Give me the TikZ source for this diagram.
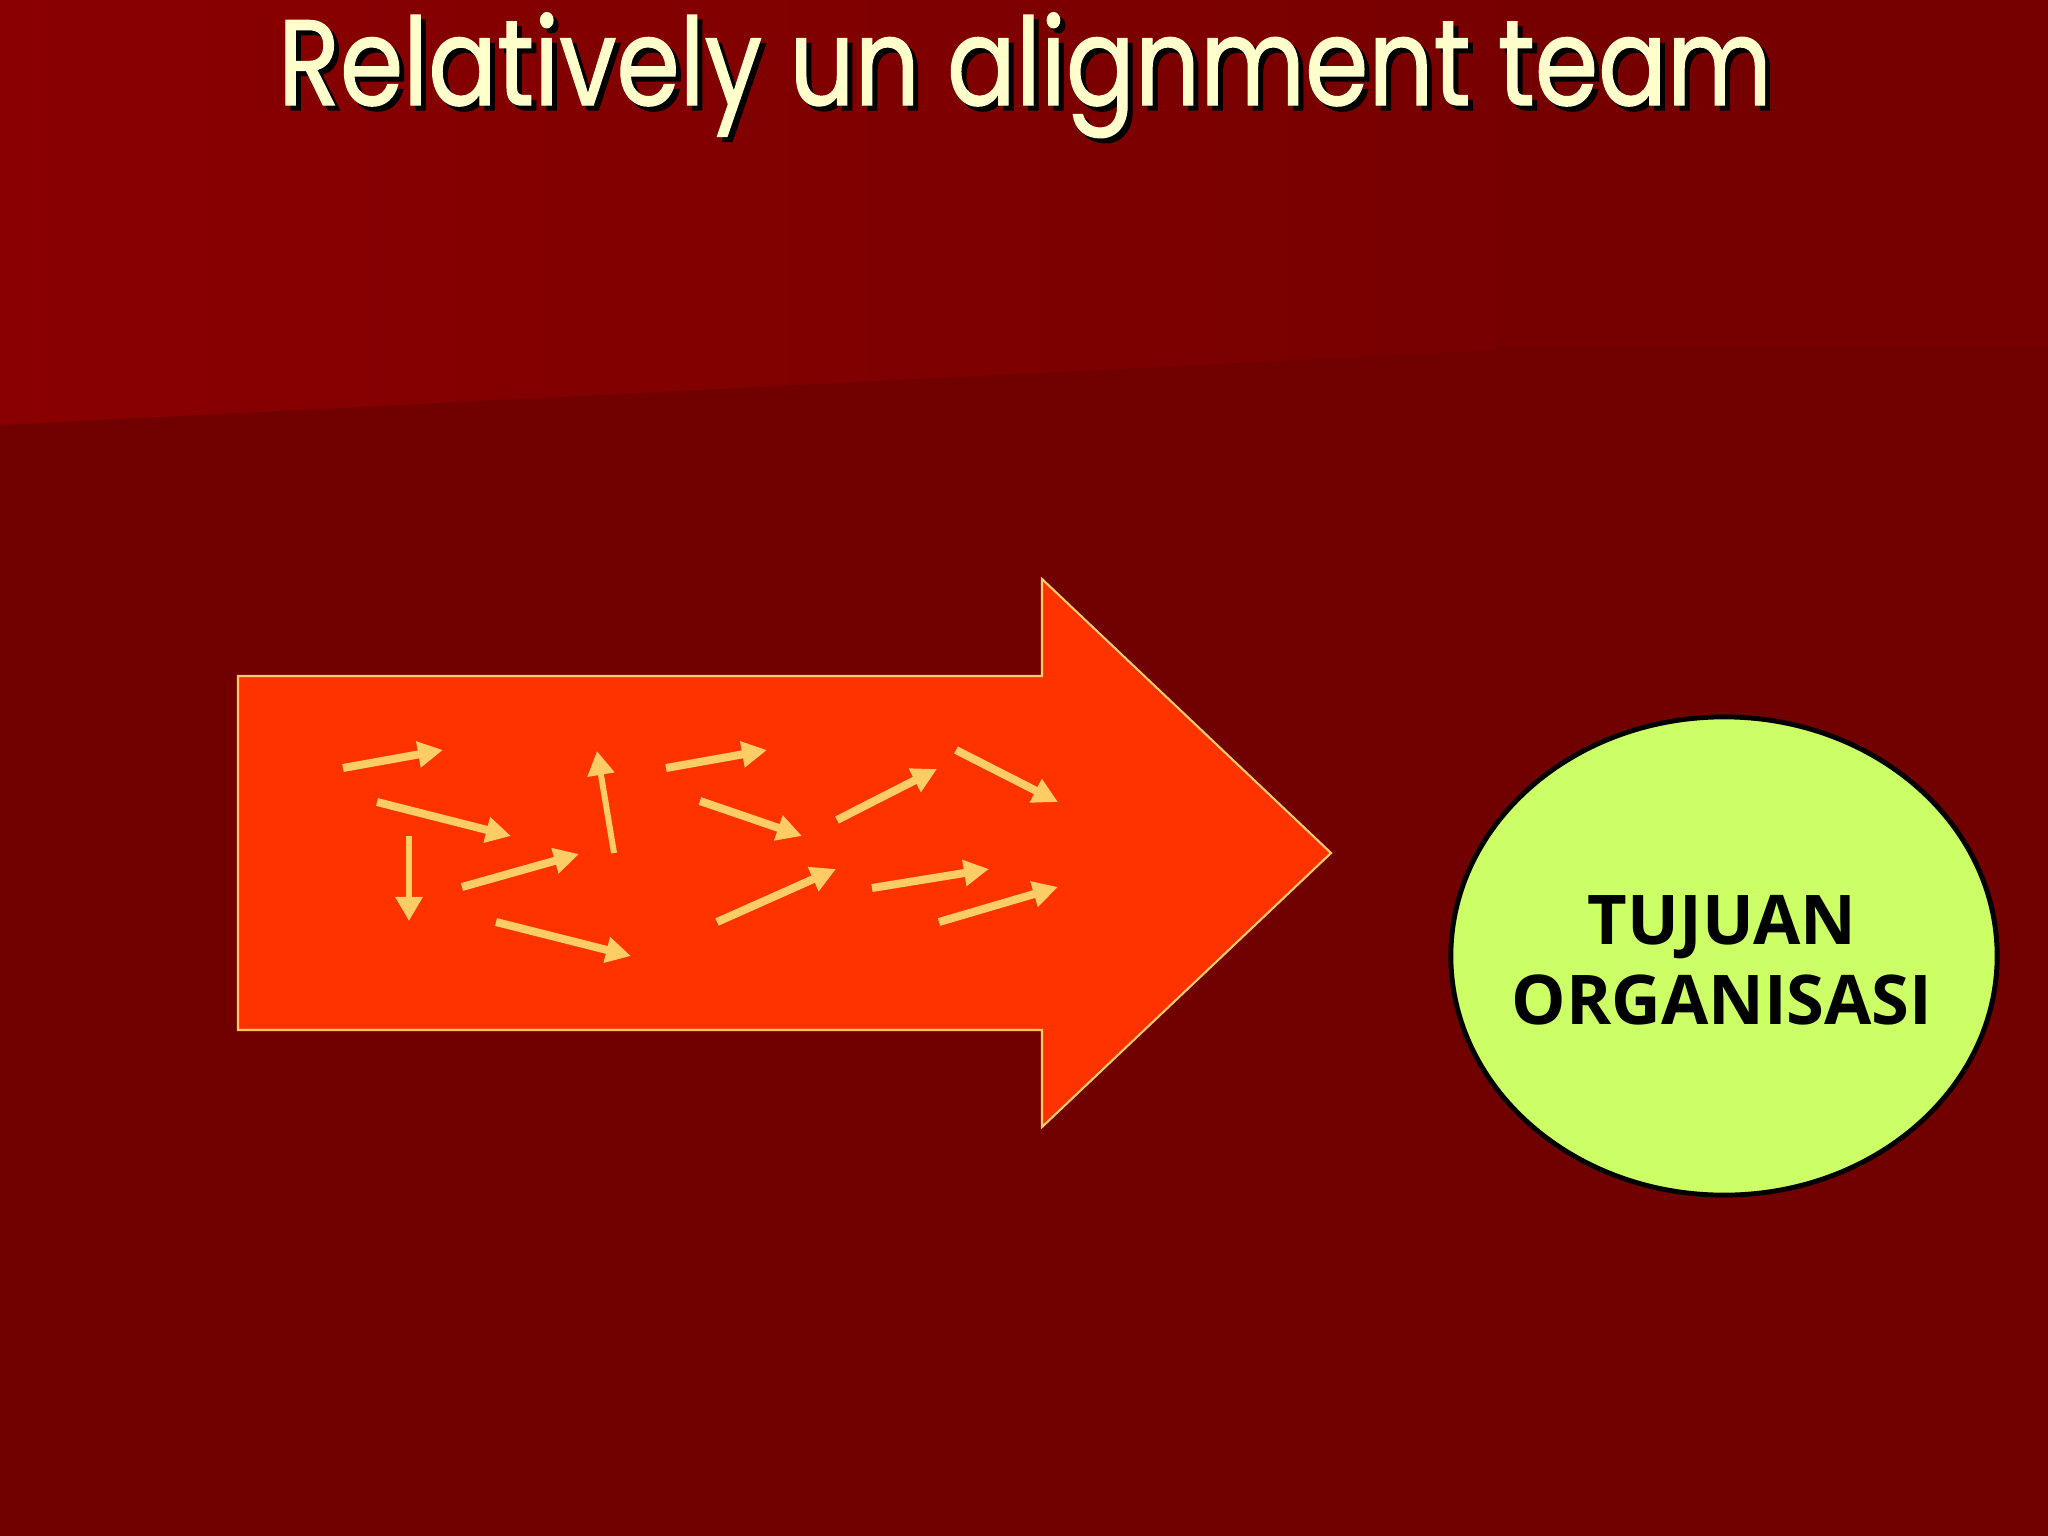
\documentclass[tikz,border=0pt]{standalone}
\usepackage{fontspec}
\setmainfont{Open Sans}
\newfontfamily\titlefont{Poppins}[FakeBold=1.2]
\usetikzlibrary{arrows.meta,shapes.geometric}
\definecolor{bgupL}{HTML}{8A0000}
\definecolor{bgupR}{HTML}{780000}
\definecolor{bgupRR}{HTML}{760000}
\definecolor{bglow}{HTML}{710000}
\definecolor{bigarrow}{HTML}{FF3300}
\definecolor{pale}{HTML}{FFCC66}
\definecolor{goal}{HTML}{CCFF66}
\definecolor{cream}{HTML}{FFFFCC}
\tikzset{
  smallarrow/.style={draw=pale, line width=0.08cm, -{Triangle[length=0.25cm,width=0.25cm]}},
  thinarrow/.style={draw=pale, line width=0.06cm, -{Triangle[length=0.24cm,width=0.26cm]}},
  goalnode/.style={ellipse, draw=black, line width=1.4pt, fill=goal, minimum width=5.46cm, minimum height=4.78cm, inner sep=0pt},
  goaltext/.style={align=center, inner sep=0pt, font=\bfseries\fontsize{19.5}{22.8}\selectfont},
  titletext/.style={font=\titlefont\fontsize{34.5}{40}\selectfont, inner sep=0pt, anchor=base}
}
\newcommand{\titlestring}{\scalebox{0.84}[1]{Relatively un alignment team}}
\begin{document}
\begin{tikzpicture}[x=0.01cm,y=-0.01cm]
\useasboundingbox (0,0) rectangle (2048,1536);
% background
\fill[bglow] (0,0) rectangle (2048,1536);
\shade[left color=bgupL, right color=bgupR] (0,0) -- (1496,0) -- (1496,350) -- (0,425) -- cycle;
\fill[bgupRR] (1496,0) rectangle (2048,346);
% title with shadow
\node[titletext, text=black] (titleshadow) at (1030,110) {\titlestring};
\node[titletext, text=cream] (title) at (1025,105) {\titlestring};
% big arrow
\coordinate (a1) at (238,676);
\coordinate (a2) at (1042,676);
\coordinate (a3) at (1042,579);
\coordinate (a4) at (1331,853);
\coordinate (a5) at (1042,1127);
\coordinate (a6) at (1042,1030);
\coordinate (a7) at (238,1030);
\filldraw[fill=bigarrow, draw=pale, line width=0.6pt, line join=miter] (a1) -- (a2) -- (a3) -- (a4) -- (a5) -- (a6) -- (a7) -- cycle;
% small scattered arrows
\draw[smallarrow] (343,768) -- (443,750);
\draw[smallarrow] (377,802) -- (511,836);
\draw[thinarrow] (409,836) -- (409,921);
\draw[smallarrow] (462,887) -- (579,854);
\draw[smallarrow] (496,922) -- (631,956);
\draw[thinarrow] (614,853) -- (597,751);
\draw[smallarrow] (666,768) -- (767,750);
\draw[smallarrow] (700,801) -- (802,836);
\draw[smallarrow] (717,922) -- (836,869);
\draw[smallarrow] (837,820) -- (937,769);
\draw[smallarrow] (872,888) -- (989,869);
\draw[smallarrow] (956,750) -- (1058,802);
\draw[smallarrow] (939,922) -- (1058,887);
% goal ellipse
\node[goalnode] (goal) at (1724,956) {};
\node[goaltext] (goallabel) at (1722,960) {TUJUAN\\ORGANISASI};
\end{tikzpicture}
\end{document}
